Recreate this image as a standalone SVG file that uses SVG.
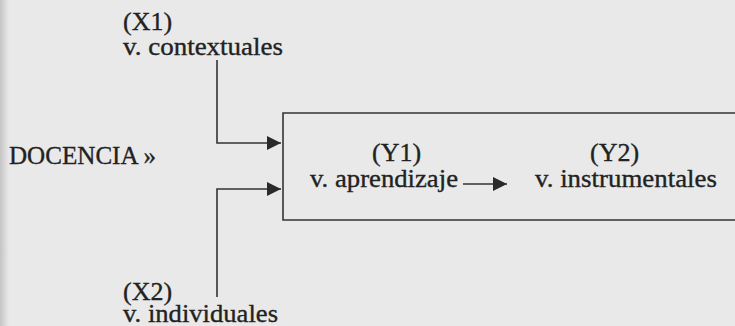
<svg xmlns="http://www.w3.org/2000/svg" width="735" height="326" viewBox="0 0 735 326">
  <defs>
    <linearGradient id="edge" x1="0" y1="0" x2="1" y2="0">
      <stop offset="0" stop-color="#c4c4c4"/>
      <stop offset="1" stop-color="#e9e9e9"/>
    </linearGradient>
    <marker id="arr" viewBox="0 0 10 10" refX="10" refY="5" markerUnits="userSpaceOnUse" markerWidth="19" markerHeight="14" orient="auto">
      <path d="M0,0 L10,5 L0,10 z" fill="#2a2a2a"/>
    </marker>
  </defs>
  <style>
    .t { font-family: "Liberation Serif", "Times New Roman", serif; font-size: 26px; fill: #222; stroke: #222; stroke-width: 0.35; }
    .ln { fill: none; stroke: #333; stroke-width: 1.6; }
  </style>
  <rect x="0" y="0" width="735" height="326" fill="#e9e9e9"/>
  <rect x="0" y="0" width="9" height="326" fill="url(#edge)"/>

  <g id="connectors">
    <path class="ln" d="M217,60 V143 H281" marker-end="url(#arr)"/>
    <path class="ln" d="M217,297 V189 H281" marker-end="url(#arr)"/>
    <path class="ln" d="M463,184 H507" marker-end="url(#arr)"/>
  </g>

  <g id="docencia">
    <text class="t" x="9" y="164" font-size="25" textLength="147" lengthAdjust="spacingAndGlyphs">DOCENCIA »</text>
  </g>

  <g id="x1">
    <text class="t" x="123" y="30">(X1)</text>
    <text class="t" x="123" y="55" textLength="160" lengthAdjust="spacingAndGlyphs">v. contextuales</text>
  </g>

  <g id="x2">
    <text class="t" x="123" y="300" font-size="25">(X2)</text>
    <text class="t" x="123" y="322" textLength="155" lengthAdjust="spacingAndGlyphs">v. individuales</text>
  </g>

  <g id="box">
    <path class="ln" d="M736,113 H283 V220 H736"/>
  </g>

  <g id="y1">
    <text class="t" x="372" y="161">(Y1)</text>
    <text class="t" x="310" y="187" textLength="148" lengthAdjust="spacingAndGlyphs">v. aprendizaje</text>
  </g>

  <g id="y2">
    <text class="t" x="590" y="161">(Y2)</text>
    <text class="t" x="535" y="187" textLength="182" lengthAdjust="spacingAndGlyphs">v. instrumentales</text>
  </g>
</svg>
